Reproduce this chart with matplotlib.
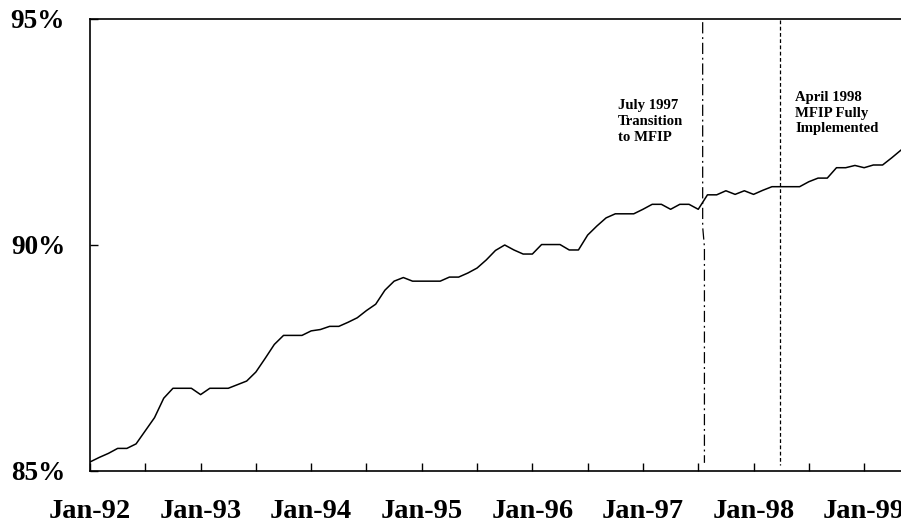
import matplotlib
matplotlib.use("Agg")
import matplotlib.pyplot as plt
import numpy as np

# Monthly series, Jan-92 (month 0) to May-99 (month 88), percent
months = list(range(89))
values = [
    85.20, 85.30, 85.39, 85.50, 85.50, 85.60, 85.89, 86.18, 86.61, 86.83,
    86.83, 86.83, 86.69, 86.83, 86.83, 86.83, 86.91, 86.99, 87.19, 87.49,
    87.80, 88.00, 88.00, 88.00, 88.10, 88.13, 88.20, 88.20, 88.29, 88.39,
    88.55, 88.69, 89.00, 89.20, 89.28, 89.20, 89.20, 89.20, 89.20, 89.29,
    89.29, 89.38, 89.49, 89.67, 89.88, 90.00, 89.89, 89.80, 89.80, 90.01,
    90.01, 90.01, 89.89, 89.89, 90.22, 90.42, 90.60, 90.69, 90.69, 90.69,
    90.79, 90.90, 90.90, 90.79, 90.90, 90.90, 90.79, 91.11, 91.11, 91.20,
    91.12, 91.20, 91.12, 91.21, 91.29, 91.29, 91.29, 91.29, 91.40, 91.48,
    91.48, 91.71, 91.71, 91.76, 91.71, 91.77, 91.77, 91.93, 92.10,
]

tick_labels = ["Jan-92", "Jan-93", "Jan-94", "Jan-95", "Jan-96", "Jan-97", "Jan-98", "Jan-99"]
tick_months = [0, 12, 24, 36, 48, 60, 72, 84]
minor_months = [6, 18, 30, 42, 54, 66, 78]
y_ticks = [85, 90, 95]
y_labels = ["85%", "90%", "95%"]

transition_month = 66.5
implemented_month = 74.85
note1 = "July 1997\nTransition\nto MFIP"
note2 = "April 1998\nMFIP Fully\nImplemented"

plt.rcParams['font.family'] = ['Liberation Serif', 'DejaVu Serif']

W, H = 901, 526
fig = plt.figure(figsize=(W / 100, H / 100), dpi=100)
ax = fig.add_axes([90 / W, 1 - 471 / H, (W - 90) / W, (471 - 19) / H])

ax.plot(months, values, color='black', lw=1.1, solid_joinstyle='round', clip_on=True)

# vertical markers
ax.plot([transition_month - 0.02, transition_month - 0.02, transition_month + 0.17, transition_month + 0.17],
        [94.93, 90.4, 89.96, 85.18], color='black', lw=0.9, dashes=(9, 3, 1.5, 3))
ax.plot([implemented_month, implemented_month], [94.98, 85.13], color='black', lw=0.9, dashes=(3, 2))

ax.text(57.3, 93.24, note1, fontsize=10.6, fontweight='bold', va='top', ha='left', linespacing=1.3)
ax.text(76.5, 93.4, note2, fontsize=10.6, fontweight='bold', va='top', ha='left', linespacing=1.25)

ax.set_xlim(0, 88)
ax.set_ylim(85, 95)
ax.set_xticks(tick_months)
ax.set_xticklabels(tick_labels)
ax.set_xticks(minor_months, minor=True)
ax.set_yticks(y_ticks)
ax.set_yticklabels(y_labels)

ax.tick_params(axis='x', which='both', direction='in', length=6, width=1, pad=20,
               labelsize=20.5)
ax.tick_params(axis='y', direction='in', length=6, width=1, pad=18, labelsize=19.5)
for lab in ax.get_xticklabels() + ax.get_yticklabels():
    lab.set_fontweight('bold')

ax.spines['right'].set_visible(False)
for s in ['left', 'bottom', 'top']:
    ax.spines[s].set_linewidth(1.2)

fig.savefig("out.png", dpi=100)
